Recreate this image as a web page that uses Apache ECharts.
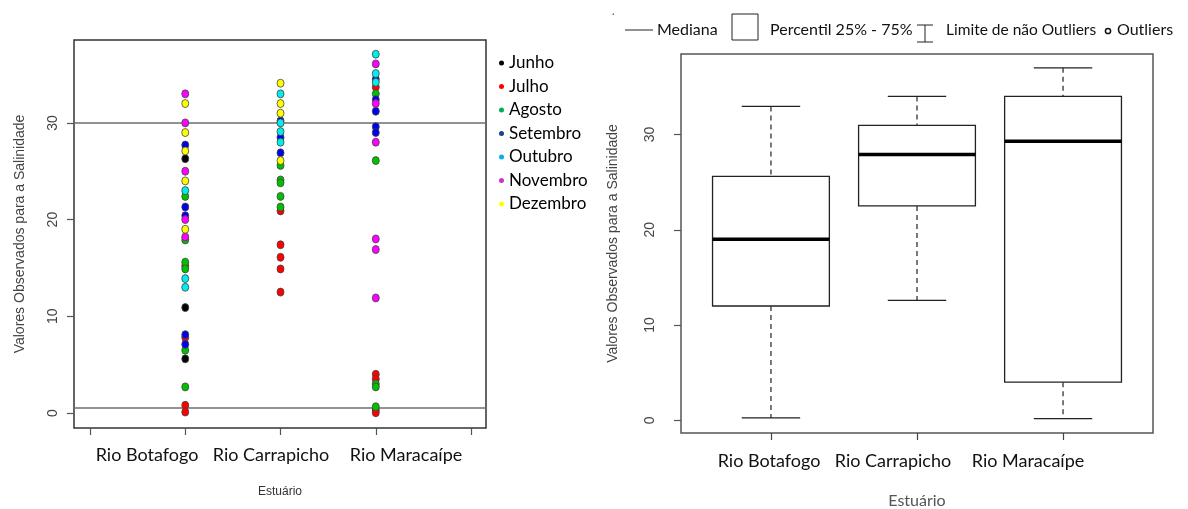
<!DOCTYPE html>
<html>
<head>
<meta charset="utf-8">
<script src="https://cdn.jsdelivr.net/npm/echarts@6/dist/echarts.min.js"></script>
<style>
html,body{margin:0;padding:0;background:#fff;}
#c{width:1188px;height:509px;}
</style>
</head>
<body>
<div id="c"></div>
<script>
// ---------- DATA ----------
const estuaries = ["Rio Botafogo", "Rio Carrapicho", "Rio Maracaípe"];
const months = ["Junho", "Julho", "Agosto", "Setembro", "Outubro", "Novembro", "Dezembro"];
// values per estuary: [Botafogo], [Carrapicho], [Maracaípe]
const junho    = [[26.3, 10.9, 5.6], [], [0.3]];
const julho    = [[15.2, 7.8, 0.8, 0.1], [20.9, 17.4, 16.1, 14.9, 12.5], [33.7, 4.0, 3.5, 0.03]];
const agosto   = [[22.4, 17.9, 15.6, 14.9, 6.5, 2.7], [25.6, 24.1, 23.8, 22.4, 21.3], [33.0, 26.1, 3.0, 2.7, 0.65]];
const setembro = [[27.7, 21.3, 20.4, 8.1, 7.1], [30.2, 28.5, 26.9], [34.5, 32.4, 31.2, 29.6, 29.0]];
const outubro  = [[23.0, 13.9, 13.0], [33.0, 30.0, 29.1, 28.0], [37.1, 35.1, 34.2]];
const novembro = [[33.0, 30.0, 25.0, 20.0, 18.2], [], [36.1, 32.0, 28.0, 18.0, 16.9, 11.9]];
const dezembro = [[32.0, 29.0, 27.1, 24.0, 19.0], [34.1, 32.0, 31.0, 26.1], []];
const referenceLines = [30, 0.5];

const boxLow    = [0.25, 12.6, 0.18];
const boxQ1     = [12.0, 22.5, 4.0];
const boxMedian = [19.0, 27.9, 29.3];
const boxQ3     = [25.6, 30.95, 34.0];
const boxHigh   = [32.95, 34.0, 37.0];

const yTicks = [0, 10, 20, 30];
const xTicksLeft = [0, 1, 2, 3, 4];
const xTicksRight = [1, 2, 3];
const yAxisTitle = "Valores Observados para a Salinidade";
const xAxisTitle = "Estuário";
const legendRight = ["Mediana", "Percentil 25% - 75%", "Limite de não Outliers", "Outliers"];

// ---------- STYLE ----------
const pointColors = ["#000000", "#FF0000", "#00C000", "#0000EE", "#00EEEE", "#FF00FF", "#FFFF00"];
const legendColors = ["#000000", "#FF0000", "#00B050", "#1F3F8F", "#00B0F0", "#CC33CC", "#FFFF00"];
const monthData = [junho, julho, agosto, setembro, outubro, novembro, dezembro];

const chart = echarts.init(document.getElementById('c'), null, {renderer: 'canvas'});

const scatterSeries = months.map((m, i) => {
  const pts = [];
  monthData[i].forEach((vals, e) => vals.forEach(v => pts.push([e + 1, v])));
  const s = {
    name: m, type: 'scatter', xAxisIndex: 0, yAxisIndex: 0,
    data: pts, symbol: 'circle', symbolSize: [7, 8],
    itemStyle: {color: pointColors[i], borderColor: '#444', borderWidth: 0.8, opacity: 1},
    emphasis: {disabled: true}, silent: true, z: 3
  };
  if (i === 0) {
    s.markLine = {
      silent: true, symbol: 'none', label: {show: false},
      lineStyle: {color: '#6e6e6e', width: 1.5, type: 'solid'},
      data: referenceLines.map(v => ({yAxis: v})), z: 2
    };
  }
  return s;
});

const boxData = estuaries.map((_, i) => [i + 1, boxLow[i], boxQ1[i], boxMedian[i], boxQ3[i], boxHigh[i]]);

const boxSeries = {
  type: 'custom', xAxisIndex: 1, yAxisIndex: 1, silent: true,
  data: boxData,
  encode: {x: 0, y: [1, 2, 3, 4, 5]},
  renderItem: function (params, api) {
    const x = api.value(0), lo = api.value(1), q1 = api.value(2), md = api.value(3), q3 = api.value(4), hi = api.value(5);
    const c = (a, b) => api.coord([a, b]);
    const bl = c(x - 0.4, q3), br = c(x + 0.4, q1);
    const cx = c(x, 0)[0];
    const capL = c(x - 0.2, 0)[0], capR = c(x + 0.2, 0)[0];
    const yHi = c(x, hi)[1], yLo = c(x, lo)[1], yMd = c(x, md)[1];
    const dash = {stroke: '#333', lineWidth: 1.3, lineDash: [5, 4]};
    const solid = {stroke: '#222', lineWidth: 1.3};
    return {type: 'group', children: [
      {type: 'line', shape: {x1: cx, y1: yHi, x2: cx, y2: bl[1]}, style: dash},
      {type: 'line', shape: {x1: cx, y1: br[1], x2: cx, y2: yLo}, style: dash},
      {type: 'line', shape: {x1: capL, y1: yHi, x2: capR, y2: yHi}, style: solid},
      {type: 'line', shape: {x1: capL, y1: yLo, x2: capR, y2: yLo}, style: solid},
      {type: 'rect', shape: {x: bl[0], y: bl[1], width: br[0] - bl[0], height: br[1] - bl[1]}, style: {fill: '#fff', stroke: '#222', lineWidth: 1.3}},
      {type: 'line', shape: {x1: bl[0], y1: yMd, x2: br[0], y2: yMd}, style: {stroke: '#000', lineWidth: 3.5}}
    ]};
  }
};

const axisLabelFont = {color: '#444', fontFamily: 'Liberation Sans', fontSize: 14};
const catFont = {fontFamily: 'Lato', fontSize: 18, fill: '#111'};

const leftLabelX = [147, 271, 406];
const rightLabelX = [769, 893, 1028];

const graphics = [];
estuaries.forEach((e, i) => {
  graphics.push({type: 'text', x: leftLabelX[i], y: 455, silent: true,
    style: Object.assign({text: e, align: 'center', verticalAlign: 'middle'}, catFont)});
  graphics.push({type: 'text', x: rightLabelX[i], y: 461, silent: true,
    style: Object.assign({text: e, align: 'center', verticalAlign: 'middle'}, catFont)});
});
// right legend
const lg = {fontFamily: 'Lato', fontSize: 16, fill: '#111', verticalAlign: 'middle'};
graphics.push(
  {type: 'text', x: 612, y: 18, style: {text: '‘', fontSize: 11, fill: '#333', verticalAlign: 'middle'}},
  {type: 'line', shape: {x1: 625, y1: 30, x2: 653, y2: 30}, style: {stroke: '#222', lineWidth: 1}},
  {type: 'text', x: 657, y: 30, style: Object.assign({text: legendRight[0]}, lg)},
  {type: 'rect', shape: {x: 732, y: 14, width: 26, height: 26}, style: {fill: '#fff', stroke: '#222', lineWidth: 1}},
  {type: 'text', x: 770, y: 30, style: Object.assign({text: legendRight[1]}, lg)},
  {type: 'line', shape: {x1: 925, y1: 25, x2: 925, y2: 42}, style: {stroke: '#222', lineWidth: 1}},
  {type: 'line', shape: {x1: 917, y1: 25, x2: 933, y2: 25}, style: {stroke: '#222', lineWidth: 1}},
  {type: 'line', shape: {x1: 917, y1: 42, x2: 933, y2: 42}, style: {stroke: '#222', lineWidth: 1}},
  {type: 'text', x: 946, y: 30, style: Object.assign({text: legendRight[2]}, lg, {fontSize: 15.5})},
  {type: 'circle', shape: {cx: 1108, cy: 31, r: 2.6}, style: {fill: '#fff', stroke: '#111', lineWidth: 1.5}},
  {type: 'text', x: 1117, y: 30, style: Object.assign({text: legendRight[3]}, lg)}
);

chart.setOption({
  animation: false,
  backgroundColor: '#fff',
  legend: {
    show: true, orient: 'vertical', left: 494, top: 48,
    icon: 'circle', itemWidth: 5, itemHeight: 5, itemGap: 3.5,
    selectedMode: false,
    textStyle: {fontFamily: 'Lato', fontSize: 17, lineHeight: 20, color: '#000'},
    data: months.map((m, i) => ({name: m, itemStyle: {color: legendColors[i], borderWidth: 0}}))
  },
  grid: [
    {left: 74, top: 40, width: 412, height: 388, show: true, borderColor: '#333', borderWidth: 1.5, backgroundColor: 'transparent', containLabel: false, outerBoundsMode: 'none'},
    {left: 681, top: 54, width: 472, height: 379, show: true, borderColor: '#555', borderWidth: 1.5, backgroundColor: 'transparent', containLabel: false, outerBoundsMode: 'none'}
  ],
  xAxis: [
    {type: 'value', gridIndex: 0, min: -0.168, max: 4.157,
     axisLine: {show: false, onZero: false}, splitLine: {show: false},
     axisTick: {show: true, length: 7, customValues: xTicksLeft, lineStyle: {color: '#555', width: 1.2}},
     axisLabel: {show: false},
     name: xAxisTitle, nameLocation: 'middle', nameGap: 58,
     nameTextStyle: {fontFamily: 'Liberation Sans', fontSize: 12, color: '#333'}},
    {type: 'value', gridIndex: 1, min: 0.384, max: 3.616,
     axisLine: {show: false, onZero: false}, splitLine: {show: false},
     axisTick: {show: true, length: 7, customValues: xTicksRight, lineStyle: {color: '#444', width: 1.2}},
     axisLabel: {show: false},
     name: xAxisTitle, nameLocation: 'middle', nameGap: 60,
     nameTextStyle: {fontFamily: 'Lato', fontSize: 16, color: '#555'}}
  ],
  yAxis: [
    {type: 'value', gridIndex: 0, min: -1.55, max: 38.57,
     axisLine: {show: false, onZero: false}, splitLine: {show: false},
     axisTick: {show: true, length: 7, customValues: yTicks, lineStyle: {color: '#555', width: 1.2}},
     axisLabel: Object.assign({show: true, rotate: 90, margin: 14, customValues: yTicks}, axisLabelFont),
     name: yAxisTitle, nameLocation: 'middle', nameRotate: 90, nameGap: 47,
     nameTextStyle: {fontFamily: 'Liberation Sans', fontSize: 14, color: '#444'}},
    {type: 'value', gridIndex: 1, min: -1.33, max: 38.45,
     axisLine: {show: false, onZero: false}, splitLine: {show: false},
     axisTick: {show: true, length: 7, customValues: yTicks, lineStyle: {color: '#555', width: 1.2}},
     axisLabel: Object.assign({show: true, rotate: 90, margin: 24, customValues: yTicks}, axisLabelFont),
     name: yAxisTitle, nameLocation: 'middle', nameRotate: 90, nameGap: 61,
     nameTextStyle: {fontFamily: 'Liberation Sans', fontSize: 14, color: '#444'}}
  ],
  graphic: graphics,
  series: scatterSeries.concat([boxSeries])
});
</script>
</body>
</html>
